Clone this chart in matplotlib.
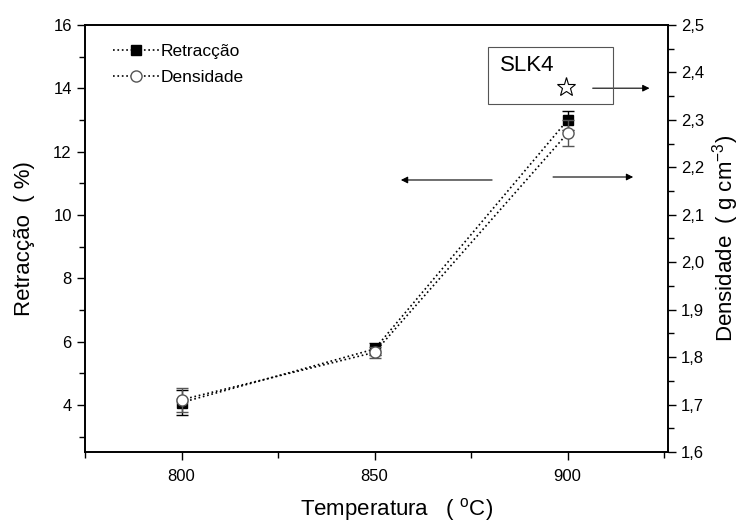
import matplotlib
matplotlib.use("Agg")
import matplotlib.pyplot as plt
from matplotlib.ticker import MultipleLocator, FuncFormatter
from matplotlib.patches import Rectangle
from matplotlib.lines import Line2D

plt.rcParams['font.family'] = ['Liberation Sans', 'DejaVu Sans']

temperatura = [800, 850, 900]
retraccao = [4.08, 5.77, 13.0]
retraccao_err = [0.40, 0.20, 0.30]
densidade = [1.71, 1.81, 2.272]
densidade_err = [0.025, 0.012, 0.027]

fig = plt.figure(figsize=(7.43, 5.23), dpi=100)
ax = fig.add_axes([0.1144, 0.1358, 0.7847, 0.8164])
ax2 = ax.twinx()

ax.errorbar(temperatura, retraccao, yerr=retraccao_err, color='black', ls=':', lw=1.2,
            marker='s', ms=7, mfc='black', mec='black', capsize=4, elinewidth=1,
            zorder=3)
ax2.errorbar(temperatura, densidade, yerr=densidade_err, color='black', ls=':', lw=1.2,
             marker='o', ms=8, mfc='white', mec='#555555', ecolor='#555555', capsize=4,
             elinewidth=1, zorder=3)

ax.set_xlim(775, 926)
ax.set_ylim(2.52, 16)
ax2.set_ylim(1.6, 2.5)

ax.xaxis.set_major_locator(MultipleLocator(50))
ax.xaxis.set_minor_locator(MultipleLocator(25))
ax.yaxis.set_major_locator(MultipleLocator(2))
ax.yaxis.set_minor_locator(MultipleLocator(1))
ax2.yaxis.set_major_locator(MultipleLocator(0.1))
ax2.yaxis.set_minor_locator(MultipleLocator(0.05))
ax2.yaxis.set_major_formatter(FuncFormatter(lambda v, p: f"{v:.1f}".replace('.', ',')))

for a in (ax, ax2):
    a.tick_params(which='major', direction='out', length=6, width=1, labelsize=12)
    a.tick_params(which='minor', direction='out', length=4, width=1)
    for s in a.spines.values():
        s.set_linewidth(1.2)
ax.tick_params(top=False, which='both')
ax.tick_params(axis='x', pad=6)

ax.set_xlabel('Temperatura   ( $^{\\mathregular{o}}$C)', fontsize=16)
ax.xaxis.set_label_coords(0.535, -0.102)
ax.set_ylabel('Retracção  ( %)', fontsize=16, labelpad=13)
ax2.set_ylabel('Densidade  ( g cm$^{\\mathregular{-3}}$)', fontsize=16, labelpad=4)

handles = [
    Line2D([], [], color='black', ls=':', lw=1.2, marker='s', ms=7,
           mfc='black', mec='black'),
    Line2D([], [], color='black', ls=':', lw=1.2, marker='o', ms=8,
           mfc='white', mec='#555555'),
]
ax.legend(handles, ['Retracção', 'Densidade'], loc='upper left',
          bbox_to_anchor=(0.048, 0.955), frameon=False, fontsize=12.5,
          handlelength=2.7, handletextpad=0.05, labelspacing=0.6,
          borderpad=0, borderaxespad=0)

# sample label box
ax.add_patch(Rectangle((0.691, 0.815), 0.215, 0.133, transform=ax.transAxes,
                       fill=False, ec='#555555', lw=0.8, zorder=4, clip_on=False))
ax.text(0.712, 0.905, 'SLK4', transform=ax.transAxes, fontsize=16,
        va='center', ha='left')
ax.plot([0.825], [0.855], transform=ax.transAxes, marker='*', ms=14,
        mfc='white', mec='black', mew=0.8, ls='none', clip_on=False)

arrow = dict(arrowstyle='-|>', color='black', lw=0.8, mutation_scale=10)
ax.annotate('', xy=(0.973, 0.852), xytext=(0.866, 0.852),
            xycoords='axes fraction', arrowprops=arrow)
ax.annotate('', xy=(0.537, 0.637), xytext=(0.703, 0.637),
            xycoords='axes fraction', arrowprops=arrow)
ax.annotate('', xy=(0.945, 0.644), xytext=(0.798, 0.644),
            xycoords='axes fraction', arrowprops=arrow)

fig.savefig('out.png', dpi=100)
